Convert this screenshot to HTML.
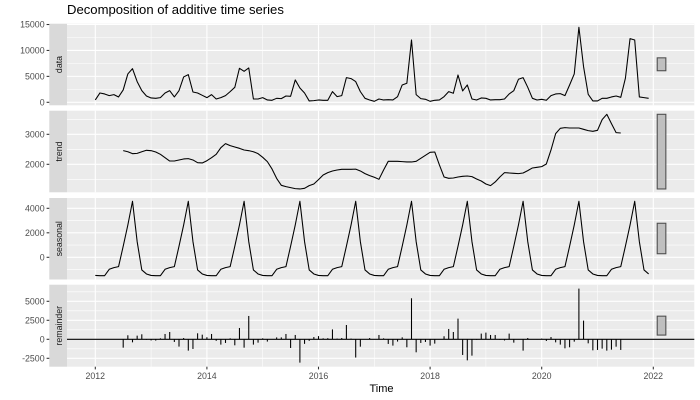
<!DOCTYPE html>
<html>
<head>
<meta charset="utf-8">
<title>Decomposition of additive time series</title>
<style>
html,body{margin:0;padding:0;background:#fff;}
svg{display:block;font-family:"Liberation Sans",Arial,sans-serif;}
</style>
</head>
<body>
<svg id="chart" width="700" height="400" viewBox="0 0 700 400" xmlns="http://www.w3.org/2000/svg">
  <rect x="0" y="0" width="700" height="400" fill="#ffffff"/>
  <text x="67" y="14" font-size="13.1" fill="#000000">Decomposition of additive time series</text>
  <text x="381.5" y="392" font-size="11" text-anchor="middle" fill="#000000">Time</text>
  <g id="layer"></g>
</svg>
<script>
const startYear = 2012;
const xTicks = [2012, 2014, 2016, 2018, 2020, 2022];
const xMinorTicks = [2013, 2015, 2017, 2019, 2021];
const dataTicks = [0, 5000, 10000, 15000];
const trendTicks = [2000, 3000];
const seasonalTicks = [0, 2000, 4000];
const remainderTicks = [-2500, 0, 2500, 5000];

const dataValues = [450,1800,1610,1290,1480,1030,2380,5470,6490,3990,2250,1220,
  840,770,900,1800,2250,1030,2250,4890,5340,1990,1800,1350,
  900,1480,640,900,1290,2060,2890,6560,5980,6620,640,640,
  900,450,390,770,710,1220,1160,4310,2760,1800,260,320,
  450,390,390,2060,1090,1290,4760,4570,3990,2060,770,450,
  190,640,450,510,450,1090,3340,3670,12020,1480,710,580,
  190,390,450,1090,2060,1740,5270,2190,3340,640,450,840,
  770,450,510,510,640,1610,2250,4440,4760,2890,770,450,
  580,390,1290,1610,1670,1290,3340,5470,14470,6880,1540,260,
  260,770,770,1030,1220,960,4630,12280,12020,1030,900,770];

const trendValues = [null,null,null,null,null,null,2455,2420,2355,2365,2420,2467,
  2455,2410,2333,2222,2110,2110,2145,2178,2190,2145,2055,2045,
  2120,2222,2333,2555,2690,2622,2578,2533,2478,2455,2420,2355,
  2233,2090,1845,1530,1300,1255,1222,1190,1178,1200,1290,1345,
  1490,1645,1722,1778,1811,1833,1833,1833,1840,1778,1689,1622,
  1567,1500,1811,2100,2100,2100,2089,2078,2078,2100,2200,2300,
  2400,2411,1978,1578,1533,1544,1578,1600,1611,1589,1511,1444,
  1344,1289,1411,1578,1722,1711,1700,1689,1711,1789,1878,1900,
  1922,2011,2478,3022,3200,3222,3211,3211,3211,3167,3122,3100,
  3133,3489,3667,3356,3056,3044,null,null,null,null,null,null];

const seasonalValues = [-1480,-1500,-1500,-980,-840,-760,900,2640,4570,1280,-1030,-1360,
  -1480,-1500,-1500,-980,-840,-760,900,2640,4570,1280,-1030,-1360,
  -1480,-1500,-1500,-980,-840,-760,900,2640,4570,1280,-1030,-1360,
  -1480,-1500,-1500,-980,-840,-760,900,2640,4570,1280,-1030,-1360,
  -1480,-1500,-1500,-980,-840,-760,900,2640,4570,1280,-1030,-1360,
  -1480,-1500,-1500,-980,-840,-760,900,2640,4570,1280,-1030,-1360,
  -1480,-1500,-1500,-980,-840,-760,900,2640,4570,1280,-1030,-1360,
  -1480,-1500,-1500,-980,-840,-760,900,2640,4570,1280,-1030,-1360,
  -1480,-1500,-1500,-980,-840,-760,900,2640,4570,1280,-1030,-1360,
  -1480,-1500,-1500,-980,-840,-760,900,2640,4570,1280,-1030,-1360];

const remainderValues = [null,null,null,null,null,null,-1100,530,-400,480,660,-60,
  -150,-170,130,700,960,-350,-960,170,-1490,-1270,790,610,
  270,700,-200,-700,-480,130,-790,1490,-1100,3070,-700,-440,
  130,-300,0,250,250,700,-1140,570,-3070,-600,-200,300,
  420,130,150,1300,100,170,1880,100,-2400,-970,0,170,
  -20,570,130,-610,-830,-300,260,-1050,5400,-1710,-480,-350,
  -830,-570,0,400,1360,960,2720,-2060,-2770,-2150,-60,750,
  880,570,570,-60,-150,750,-440,0,-1490,170,20,-30,
  100,-220,300,-400,-700,-1190,-1050,-310,6670,2460,-530,-1450,
  -1400,-1230,-1490,-1360,-970,-1400,null,null,null,null,null,null];

const NS = 'http://www.w3.org/2000/svg';
const layer = document.getElementById('layer');
const stripLeft = 49.3, panelLeft = 67, panelRight = 694.3;
const rangeBarX0 = 2022.07, rangeBarX1 = 2022.225;

function xScale(t) { return 95.3 + (t - 2012) * 55.8; }
function makeYScale(p) {
  return function (v) {
    return p.top + (p.domainMax - v) / (p.domainMax - p.domainMin) * (p.bottom - p.top);
  };
}
function monthTime(i) { return startYear + i / 12; }
function present(arr) { return arr.filter(function (v) { return v !== null; }); }
function add(tag, attrs, parent) {
  const el = document.createElementNS(NS, tag);
  Object.keys(attrs).forEach(function (k) { el.setAttribute(k, attrs[k]); });
  (parent || layer).appendChild(el);
  return el;
}

const panels = [
  { key: 'data', top: 23.7, bottom: 105.3, domainMax: 15157, domainMin: -578, ticks: dataTicks, values: dataValues, kind: 'line' },
  { key: 'trend', top: 110.7, bottom: 192.3, domainMax: 3787, domainMin: 1067, ticks: trendTicks, values: trendValues, kind: 'line' },
  { key: 'seasonal', top: 198, bottom: 279.5, domainMax: 4841, domainMin: -1812, ticks: seasonalTicks, values: seasonalValues, kind: 'line' },
  { key: 'remainder', top: 284.7, bottom: 366.7, domainMax: 7184, domainMin: -3605, ticks: remainderTicks, values: remainderValues, kind: 'bar' }
];

const trendSpan = Math.max.apply(null, present(trendValues)) - Math.min.apply(null, present(trendValues));

panels.forEach(function (p) {
  const y = makeYScale(p);
  const group = add('g', {});
  
  

  const bg = add('rect', { x: panelLeft, y: p.top, width: panelRight - panelLeft, height: p.bottom - p.top, fill: '#EBEBEB' }, group);
  
  

  const strip = add('rect', { x: stripLeft, y: p.top, width: panelLeft - stripLeft, height: p.bottom - p.top, fill: '#D9D9D9' }, group);
  
  

  const midY = (p.top + p.bottom) / 2;
  const stripLabel = add('text', { x: 59, y: midY, 'font-size': 8.8, fill: '#1A1A1A', 'text-anchor': 'middle', 'dominant-baseline': 'central', transform: 'rotate(-90 59 ' + midY + ')' }, group);
  stripLabel.textContent = p.key;
  
  

  // horizontal minor grid
  const step = p.ticks[1] - p.ticks[0];
  for (let v = p.ticks[0] - step / 2; v <= p.domainMax; v += step) {
    if (v < p.domainMin || p.ticks.indexOf(v) >= 0) continue;
    const g = add('line', { x1: panelLeft, x2: panelRight, y1: y(v), y2: y(v), stroke: '#ffffff', 'stroke-width': 0.53 }, group);
    
    
  }
  // vertical minor grid
  xMinorTicks.forEach(function (t) {
    const g = add('line', { x1: xScale(t), x2: xScale(t), y1: p.top, y2: p.bottom, stroke: '#ffffff', 'stroke-width': 0.53 }, group);
    
    
  });
  // horizontal major grid, ticks, labels
  p.ticks.forEach(function (v) {
    const g = add('line', { x1: panelLeft, x2: panelRight, y1: y(v), y2: y(v), stroke: '#ffffff', 'stroke-width': 1.07 }, group);
    
    
    const tick = add('line', { x1: 46.6, x2: stripLeft, y1: y(v), y2: y(v), stroke: '#333333', 'stroke-width': 1.07 }, group);
    
    
    const label = add('text', { x: 44.6, y: y(v) + 3.1, 'font-size': 8.8, fill: '#4D4D4D', 'text-anchor': 'end' }, group);
    label.textContent = String(v);
    
    
  });
  // vertical major grid
  xTicks.forEach(function (t) {
    const g = add('line', { x1: xScale(t), x2: xScale(t), y1: p.top, y2: p.bottom, stroke: '#ffffff', 'stroke-width': 1.07 }, group);
    
    
  });

  // series
  if (p.kind === 'line') {
    let d = '';
    let pen = false;
    p.values.forEach(function (v, i) {
      if (v === null) { pen = false; return; }
      d += (pen ? 'L' : 'M') + xScale(monthTime(i)).toFixed(2) + ' ' + y(v).toFixed(2);
      pen = true;
    });
    const path = add('path', { d: d, fill: 'none', stroke: '#000000', 'stroke-width': 1.07, 'stroke-linejoin': 'round' }, group);
    
    
  } else {
    p.values.forEach(function (v, i) {
      if (v === null) return;
      const bar = add('line', { x1: xScale(monthTime(i)), x2: xScale(monthTime(i)), y1: y(0), y2: y(v), stroke: '#000000', 'stroke-width': 1.07 }, group);
      
      
    });
    const zero = add('line', { x1: panelLeft, x2: panelRight, y1: y(0), y2: y(0), stroke: '#000000', 'stroke-width': 1.07 }, group);
    
    
  }

  // range bar
  const vals = present(p.values);
  const centre = (Math.max.apply(null, vals) + Math.min.apply(null, vals)) / 2;
  const y0 = y(centre + trendSpan / 2);
  const y1 = y(centre - trendSpan / 2);
  const rb = add('rect', { x: xScale(rangeBarX0), y: y0, width: xScale(rangeBarX1) - xScale(rangeBarX0), height: y1 - y0, fill: '#BFBFBF', stroke: '#4D4D4D', 'stroke-width': 1.07 }, group);
  
  
});

// x axis ticks and labels (bottom panel only)
const bottomEdge = panels[3].bottom;
xTicks.forEach(function (t) {
  const tick = add('line', { x1: xScale(t), x2: xScale(t), y1: bottomEdge, y2: bottomEdge + 2.7, stroke: '#333333', 'stroke-width': 1.07 });
  
  
  const label = add('text', { x: xScale(t), y: 379, 'font-size': 8.8, fill: '#4D4D4D', 'text-anchor': 'middle' });
  label.textContent = String(t);
  
  
});
</script>
</body>
</html>
